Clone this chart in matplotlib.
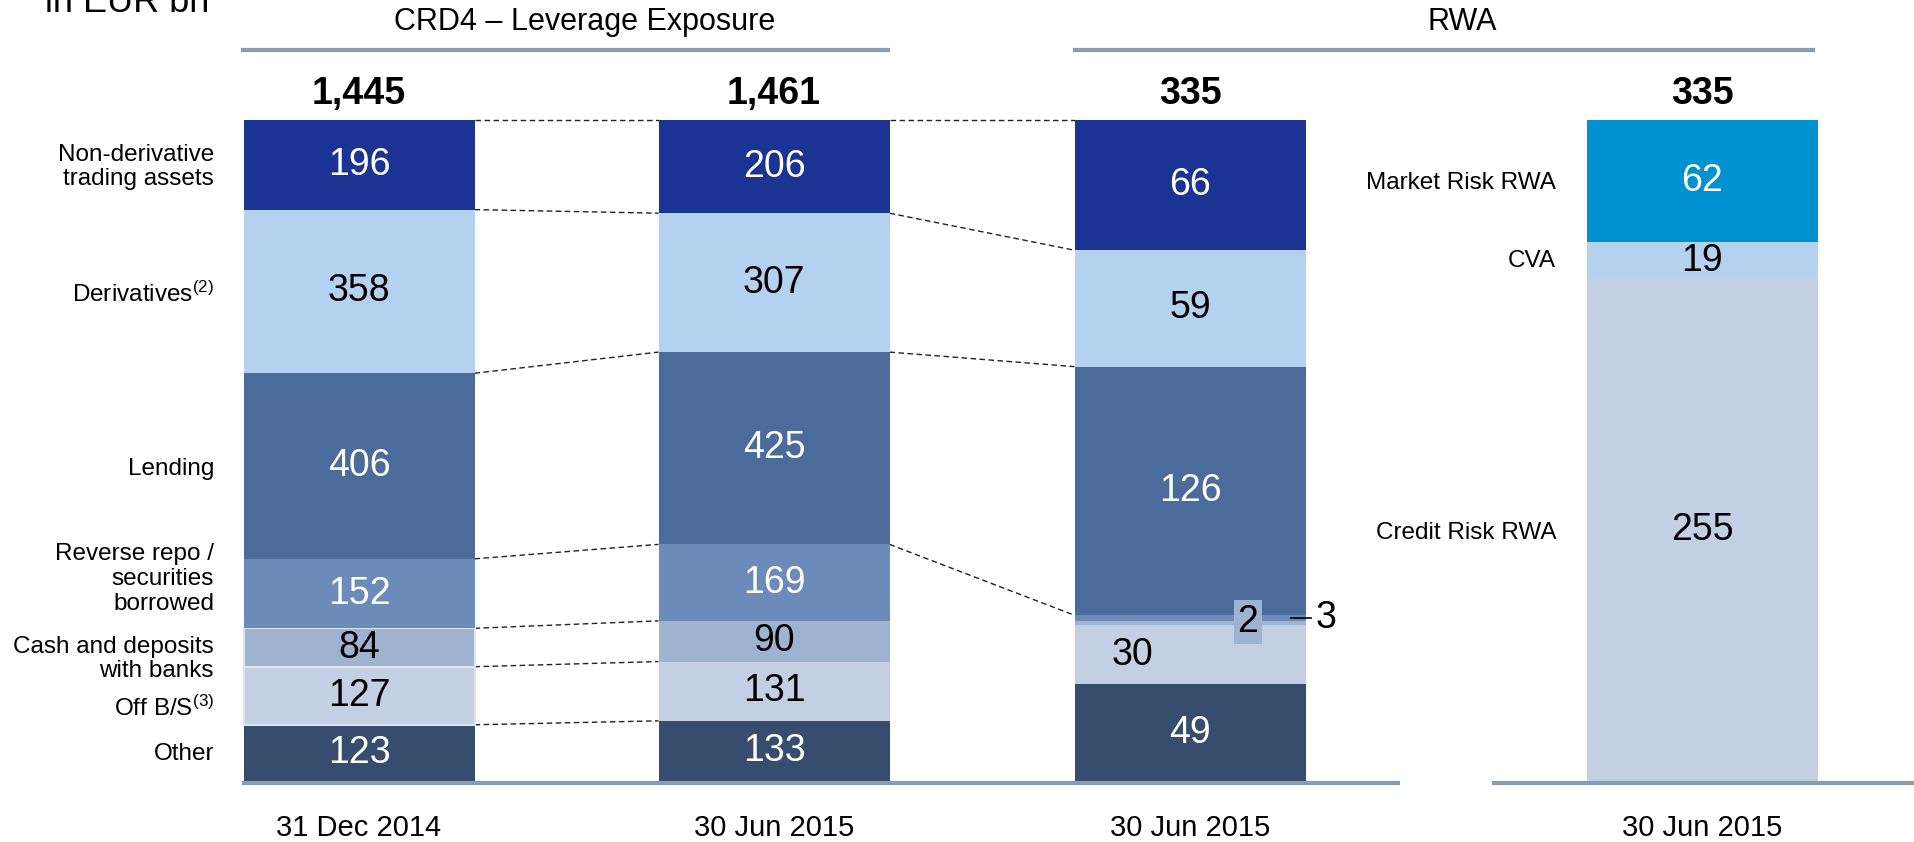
import matplotlib
matplotlib.use('Agg')
import matplotlib.pyplot as plt
import numpy as np

plt.rcParams['font.family'] = ['Liberation Sans', 'DejaVu Sans']
plt.rcParams['mathtext.fontset'] = 'custom'
plt.rcParams['mathtext.rm'] = 'Liberation Sans'
plt.rcParams['mathtext.it'] = 'Liberation Sans:italic'
plt.rcParams['mathtext.bf'] = 'Liberation Sans:bold'

# ---------------- data (bottom-up stacking order) ----------------
exposure_cats = ["Other", "Off B/S$^{(3)}$", "Cash and deposits\nwith banks",
                 "Reverse repo /\nsecurities\nborrowed", "Lending",
                 "Derivatives$^{(2)}$", "Non-derivative\ntrading assets"]
lev_dec14 = [123, 127, 84, 152, 406, 358, 196]
lev_jun15 = [133, 131, 90, 169, 425, 307, 206]
rwa_by_exposure = [49, 30, 2, 3, 126, 59, 66]
rwa_types = ["Credit Risk RWA", "CVA", "Market Risk RWA"]
rwa_by_type = [255, 19, 62]
totals = ["1,445", "1,461", "335", "335"]
dates = ["31 Dec 2014", "30 Jun 2015", "30 Jun 2015", "30 Jun 2015"]
headers = ["CRD4 \u2013 Leverage Exposure", "RWA"]
unit_label = "in EUR bn"

# ---------------- style ----------------
exp_colors = ['#364D6E', '#C3CFE2', '#9FB2D0', '#6C8BB9', '#4B6B9B', '#B4D1EF', '#1B3393']
exp_txt = ['white', 'black', 'black', 'white', 'white', 'black', 'white']
rwa_colors = ['#C3CFE2', '#B4D1EF', '#0092D0']
rwa_txt = ['black', 'black', 'white']
rule_color = '#8A9DB0'

W, H = 1914, 842
fig = plt.figure(figsize=(W / 100, H / 100), dpi=100)
BOT_PX, TOP_PX = 781, 120
ax = fig.add_axes([0, (H - BOT_PX) / H, 1, (BOT_PX - TOP_PX) / H])
ax.set_xlim(0, W)
ax.set_ylim(0, 1)
ax.axis('off')


def py(ypx):
    """figure pixel row (from top) -> axes data y"""
    return (BOT_PX - ypx) / (BOT_PX - TOP_PX)


centers = [359, 774, 1190, 1702]
bw = 231
VAL_FS = 27


def stack(xc, vals, colors, edge=None):
    v = np.array(vals, dtype=float)
    frac = v / v.sum()
    bottoms = np.concatenate([[0], np.cumsum(frac)[:-1]])
    for i, (f, b) in enumerate(zip(frac, bottoms)):
        ec = 'none'
        lw = 0
        if edge is not None and i in edge:
            ec, lw = '#DDE4EE', 1.5
        ax.bar(xc, f, width=bw, bottom=b, color=colors[i], edgecolor=ec,
               linewidth=lw, zorder=2)
    return frac, bottoms


bars = [lev_dec14, lev_jun15, rwa_by_exposure]
stacks = []
for k, vals in enumerate(bars):
    fr, bo = stack(centers[k], vals, exp_colors, edge=(1, 2) if k == 0 else None)
    stacks.append((fr, bo))
    for i, (f, b) in enumerate(zip(fr, bo)):
        if k == 2 and i in (1, 2, 3):
            continue
        ax.text(centers[k], b + f / 2, str(vals[i]), ha='center', va='center',
                fontsize=VAL_FS, color=exp_txt[i], zorder=4)

# special labels on third bar
fr3, bo3 = stacks[2]
ax.text(1132, bo3[1] + fr3[1] / 2, str(rwa_by_exposure[1]), ha='center', va='center',
        fontsize=VAL_FS, color='black', zorder=4)
ax.text(1248, py(622), str(rwa_by_exposure[2]), ha='center', va='center',
        fontsize=VAL_FS, color='black', zorder=5,
        bbox=dict(boxstyle='square,pad=0.1', facecolor=exp_colors[2], edgecolor='none'))
y3 = bo3[3] + fr3[3] / 2
ax.plot([1291, 1311], [y3, y3], color='black', lw=1.2, zorder=5, clip_on=False)
ax.text(1316, y3, str(rwa_by_exposure[3]), ha='left', va='center',
        fontsize=VAL_FS, color='black', zorder=5)

# RWA by type bar
fr4, bo4 = stack(centers[3], rwa_by_type, rwa_colors)
for i, (f, b) in enumerate(zip(fr4, bo4)):
    ax.text(centers[3], b + f / 2, str(rwa_by_type[i]), ha='center', va='center',
            fontsize=VAL_FS, color=rwa_txt[i], zorder=4)

# connector dashed lines
def connect(a, b, levels):
    x0 = centers[a] + bw / 2
    x1 = centers[b] - bw / 2
    fa, ba = stacks[a]
    fb, bb = stacks[b]
    tops_a = ba + fa
    tops_b = bb + fb
    for i in levels:
        ax.plot([x0, x1], [tops_a[i], tops_b[i]], color='#222222', lw=1.0,
                ls=(0, (4, 2.5)), zorder=1, clip_on=False)

connect(0, 1, range(0, 7))
connect(1, 2, range(3, 7))

# totals
for xc, t in zip(centers, totals):
    ax.text(xc, py(94), t, ha='center', va='center', fontsize=27,
            fontweight='bold', color='black')

# dates
for xc, d in zip(centers, dates):
    ax.text(xc, py(828), d, ha='center', va='center', fontsize=21, color='black')

# category labels
cat_y = [754, 708, 659, 579, 469, 294, 167]
for lab, yy in zip(exposure_cats, cat_y):
    ax.text(214, py(yy), lab, ha='right', va='center', fontsize=17.5,
            linespacing=1.15, color='black')
rwa_y = [533, 261, 183]
for lab, yy in zip(rwa_types, rwa_y):
    ax.text(1556, py(yy), lab, ha='right', va='center', fontsize=17.5, color='black')

# headers and rules
ax.text(585, py(22), headers[0], ha='center', va='center', fontsize=22)
ax.text(1462, py(22), headers[1], ha='center', va='center', fontsize=22)
ax.plot([243, 888], [py(50), py(50)], color=rule_color, lw=3, clip_on=False)
ax.plot([1075, 1813], [py(50), py(50)], color=rule_color, lw=3, clip_on=False)
ax.plot([244, 1398], [py(783), py(783)], color=rule_color, lw=3, clip_on=False, zorder=3)
ax.plot([1494, 1914], [py(783), py(783)], color=rule_color, lw=3, clip_on=False, zorder=3)

ax.text(45, py(12), unit_label, ha='left', va='baseline', fontsize=26)

fig.savefig('out.png', dpi=100)
